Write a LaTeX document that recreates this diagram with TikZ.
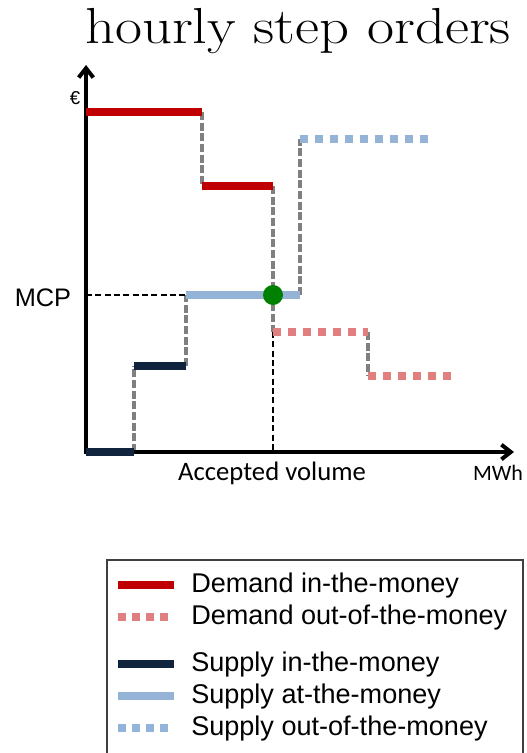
\documentclass[tikz,border=0pt]{standalone}
\usepackage{fontspec}
\newfontfamily\arialfont{Liberation Sans}
\newfontfamily\calfont{Carlito}
\usetikzlibrary{arrows.meta}
\definecolor{demIn}{HTML}{C00000}
\definecolor{demOut}{HTML}{E07E80}
\definecolor{supIn}{HTML}{10243E}
\definecolor{supAt}{HTML}{95B3D7}
\definecolor{stepGray}{HTML}{808080}
\definecolor{mcpGreen}{HTML}{008000}
\begin{document}
\begin{tikzpicture}[x=0.75pt,y=-0.75pt,
  axis/.style={line width=3pt,black},
  solidbar/.style={line width=6pt},
  dotbar/.style={line width=6pt,dash pattern=on 6pt off 5.25pt},
  riser/.style={line width=2.7pt,stepGray,dash pattern=on 6pt off 2pt},
  guide/.style={line width=2.2pt,black,dash pattern=on 4.5pt off 2.5pt},
  legline/.style={line width=5.5pt},
  legdot/.style={line width=6pt,dash pattern=on 6pt off 4.5pt},
  legtext/.style={anchor=west,font=\arialfont\fontsize{20.3}{24}\selectfont,inner sep=0pt}]
\useasboundingbox (0,0) rectangle (526,753);

% title, set a little wider than the font's natural width
\node[font=\fontsize{38}{38}\selectfont,anchor=base,inner sep=0pt] (title) at (298,43)
  {\scalebox{1.16}[1]{hourly step orders}};

% axes
\coordinate (O) at (86,452);
\coordinate (ytip) at (86,65);
\coordinate (xtip) at (514,452);

% step points
\coordinate (d1a) at (86,112);  \coordinate (d1b) at (202,112);
\coordinate (d2a) at (202,186); \coordinate (d2b) at (273,186);
\coordinate (d3a) at (273,332); \coordinate (d3b) at (368,332);
\coordinate (d4a) at (368,376); \coordinate (d4b) at (455,376);
\coordinate (s0a) at (86,452);  \coordinate (s0b) at (134,452);
\coordinate (s1a) at (134,366); \coordinate (s1b) at (186,366);
\coordinate (s2a) at (186,295); \coordinate (s2b) at (300,295);
\coordinate (s3a) at (300,139); \coordinate (s3b) at (432,139);
\coordinate (mcpL) at (86,295);
\coordinate (volB) at (273,452);

% risers between steps
\draw[riser] (d1b) -- (d2a);
\draw[riser] (d2b) -- (d3a);
\draw[riser] (d3b) -- (d4a);
\draw[riser] (s0b) -- (s1a);
\draw[riser] (s1b) -- (s2a);
\draw[riser] (s2b) -- (s3a);

% guide lines to the axes
\draw[guide] (mcpL) -- (s2a);
\draw[guide] (d3a) -- (volB);

\draw[axis,{Straight Barb[length=7pt,width=11pt]}-{Straight Barb[length=7pt,width=11pt]},line join=miter] (ytip) -- (O) -- (xtip);

% demand steps
\draw[solidbar,demIn] (d1a) -- (d1b);
\draw[solidbar,demIn] (d2a) -- (d2b);
\draw[dotbar,demOut] (d3a) -- (d3b);
\draw[dotbar,demOut] (d4a) -- (d4b);
% supply steps
\draw[solidbar,supIn] (s0a) -- (s0b);
\draw[solidbar,supIn] (s1a) -- (s1b);
\draw[solidbar,supAt] (s2a) -- (s2b);
\draw[dotbar,supAt] (s3a) -- (s3b);

% market clearing point
\fill[mcpGreen] (273,295) circle[radius=7.5pt];
\node (mcpdot) at (273,295) {};

% axis labels
\node[font=\arialfont\fontsize{14}{14}\selectfont,inner sep=0pt] (euro) at (75,98) {€};
\node[font=\arialfont\fontsize{19}{20}\selectfont,inner sep=0pt] (mcp) at (43,298) {MCP};
\node[font=\calfont\fontsize{20}{20}\selectfont,inner sep=0pt] (vol) at (272,473) {Accepted volume};
\node[font=\calfont\fontsize{16.5}{18}\selectfont,inner sep=0pt] (mwh) at (498,473) {MWh};

% legend
\draw[line width=1.2pt,black!75] (107,560) rectangle (523,790);
\draw[legline,demIn] (118,585) -- (174,585);
\node[legtext] (l1) at (191,585) {Demand in-the-money};
\draw[legdot,demOut] (118,617) -- (174,617);
\node[legtext] (l2) at (191,617) {Demand out-of-the-money};
\draw[legline,supIn] (118,664) -- (174,664);
\node[legtext] (l3) at (191,664) {Supply in-the-money};
\draw[legline,supAt] (118,696) -- (174,696);
\node[legtext] (l4) at (191,696) {Supply at-the-money};
\draw[legdot,supAt] (118,728) -- (174,728);
\node[legtext] (l5) at (191,728) {Supply out-of-the-money};
\end{tikzpicture}
\end{document}
